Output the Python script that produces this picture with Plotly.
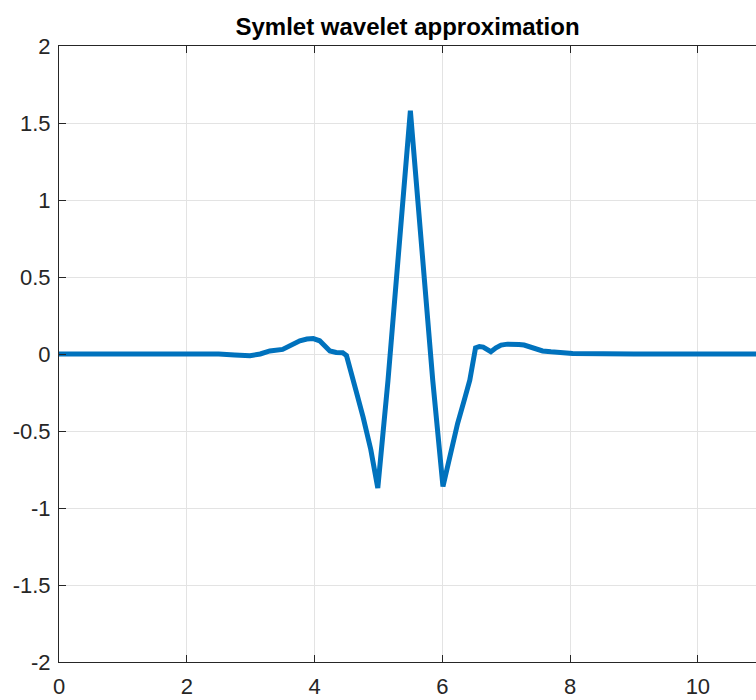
import plotly.graph_objects as go

# Symlet wavelet approximation samples (time, amplitude)
t = [0.0, 1.0, 2.0, 2.5, 2.75, 2.99, 3.15, 3.3, 3.5, 3.65, 3.77, 3.88, 3.98,
     4.08, 4.16, 4.24, 4.34, 4.44, 4.5, 4.55, 4.6, 4.65, 4.76, 4.88, 4.99,
     5.15, 5.5, 5.85, 6.01, 6.12, 6.24, 6.35, 6.43, 6.52, 6.58, 6.64, 6.7,
     6.76, 6.84, 6.92, 7.02, 7.12, 7.2, 7.28, 7.42, 7.57, 7.7, 7.84, 8.04,
     9.0, 10.0, 11.0]
psi = [0.0, 0.002, 0.004, 0.0, -0.006, -0.011, 0.0, 0.02, 0.03, 0.06, 0.086,
       0.097, 0.10, 0.086, 0.05, 0.02, 0.01, 0.008, -0.01, -0.08, -0.17,
       -0.24, -0.41, -0.62, -0.87, -0.17, 1.58, -0.17, -0.86, -0.66, -0.45,
       -0.29, -0.17, 0.04, 0.048, 0.045, 0.03, 0.015, 0.04, 0.058, 0.064,
       0.065, 0.062, 0.058, 0.037, 0.02, 0.014, 0.011, 0.004, 0.0, 0.0, 0.0]

x_ticks = [0, 2, 4, 6, 8, 10]
y_ticks = [-2, -1.5, -1, -0.5, 0, 0.5, 1, 1.5, 2]
y_labels = ["-2", "-1.5", "-1", "-0.5", "0", "0.5", "1", "1.5", "2"]

FONT = "Liberation Sans, Arial, sans-serif"
AXIS = "#262626"

fig = go.Figure()
fig.add_trace(go.Scatter(
    x=t, y=psi, mode="lines",
    line=dict(color="#0072BD", width=5),
    hoverinfo="skip", showlegend=False,
))

fig.update_layout(
    width=756, height=700,
    margin=dict(l=59, r=0, t=46, b=38),
    paper_bgcolor="white", plot_bgcolor="white",
    title=dict(text="<b>Symlet wavelet approximation</b>",
               x=0.5, xref="paper", xanchor="center",
               y=1 - 27 / 700, yref="container", yanchor="middle",
               font=dict(family=FONT, size=24, color="black")),
    font=dict(family=FONT, size=22, color=AXIS),
)

fig.update_xaxes(
    range=[0, 10.91], tickvals=x_ticks, ticktext=[str(v) for v in x_ticks],
    showgrid=True, gridcolor="#e3e3e3", gridwidth=1,
    zeroline=False, showline=True, linecolor=AXIS, linewidth=1,
    mirror="ticks", ticks="inside", ticklen=7, tickcolor=AXIS,
    ticklabelstandoff=5,
    tickfont=dict(family=FONT, size=22, color=AXIS),
)
fig.update_yaxes(
    range=[-2, 2], tickvals=y_ticks, ticktext=y_labels,
    showgrid=True, gridcolor="#e3e3e3", gridwidth=1,
    zeroline=False, showline=True, linecolor=AXIS, linewidth=1,
    mirror=False, ticks="inside", ticklen=7, tickcolor=AXIS,
    ticklabelstandoff=3,
    tickfont=dict(family=FONT, size=22, color=AXIS),
)

fig.write_html("out.html")
